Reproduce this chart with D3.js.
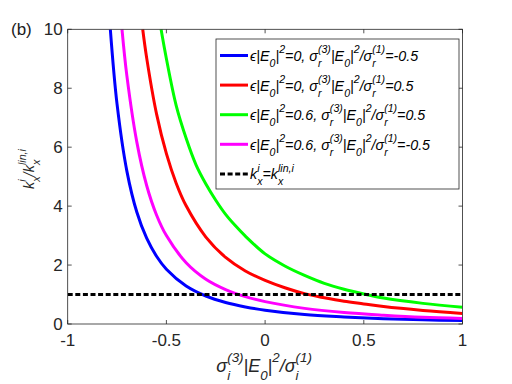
<!DOCTYPE html>
<html>
<head>
<meta charset="utf-8">
<script src="https://cdn.jsdelivr.net/npm/d3@7/dist/d3.min.js"></script>
<style>
  html, body { margin: 0; padding: 0; background: #fff; }
  svg { display: block; font-family: "Liberation Sans", Arial, Helvetica, sans-serif; }
</style>
</head>
<body>
<div id="chart"></div>
<script>
"use strict";

// values: [x, k/k_lin]
var blueData = [[-0.784,10],[-0.75,7.46],[-0.7,5.18],[-0.65,3.8],[-0.6,2.91],[-0.55,2.3],[-0.5,1.86],[-0.4,1.29],[-0.3,0.95],[-0.2,0.73],[-0.1,0.58],[0,0.47],[0.2,0.32],[0.4,0.24],[0.6,0.18],[0.8,0.14],[1,0.12]];
var redData = [[-0.62,10],[-0.6,9.03],[-0.55,7.13],[-0.5,5.78],[-0.45,4.77],[-0.4,4.01],[-0.3,2.95],[-0.2,2.26],[-0.1,1.8],[0,1.48],[0.1,1.23],[0.2,1.03],[0.3,0.89],[0.4,0.77],[0.5,0.68],[0.6,0.59],[0.8,0.46],[1,0.36]];
var greenData = [[-0.527,10],[-0.5,9.0],[-0.45,7.4],[-0.4,6.3],[-0.35,5.4],[-0.3,4.75],[-0.25,4.2],[-0.2,3.72],[-0.15,3.33],[-0.1,2.98],[0,2.38],[0.1,1.97],[0.2,1.65],[0.3,1.38],[0.4,1.18],[0.5,1.02],[0.6,0.88],[0.8,0.7],[1,0.57]];
var magentaData = [[-0.725,10],[-0.7,8.41],[-0.65,6.18],[-0.6,4.7],[-0.55,3.7],[-0.5,3.0],[-0.4,2.08],[-0.3,1.52],[-0.2,1.17],[-0.1,0.93],[0,0.76],[0.2,0.53],[0.4,0.39],[0.6,0.3],[0.8,0.23],[1,0.19]];
var refLevel = 1;

var xTicks = [-1, -0.5, 0, 0.5, 1];
var xTickLabels = ["-1", "-0.5", "0", "0.5", "1"];
var yTicks = [0, 2, 4, 6, 8, 10];
var yTickLabels = ["0", "2", "4", "6", "8", "10"];

// legend labels: strings are normal text, objects are stacked sub/superscripts
var legendLabels = [
	["\u03f5|E", {sub:"0"}, "|", {sup:"2"}, "=0, \u03c3", {sub:"r", sup:"(3)"}, "|E", {sub:"0"}, "|", {sup:"2"}, "/\u03c3", {sub:"r", sup:"(1)"}, "=-0.5"],
	["\u03f5|E", {sub:"0"}, "|", {sup:"2"}, "=0, \u03c3", {sub:"r", sup:"(3)"}, "|E", {sub:"0"}, "|", {sup:"2"}, "/\u03c3", {sub:"r", sup:"(1)"}, "=0.5"],
	["\u03f5|E", {sub:"0"}, "|", {sup:"2"}, "=0.6, \u03c3", {sub:"r", sup:"(3)"}, "|E", {sub:"0"}, "|", {sup:"2"}, "/\u03c3", {sub:"r", sup:"(1)"}, "=0.5"],
	["\u03f5|E", {sub:"0"}, "|", {sup:"2"}, "=0.6, \u03c3", {sub:"r", sup:"(3)"}, "|E", {sub:"0"}, "|", {sup:"2"}, "/\u03c3", {sub:"r", sup:"(1)"}, "=-0.5"],
	["k", {sub:"x", sup:"i"}, "=k", {sub:"x", sup:"lin,i"}]
];
var xLabel = ["\u03c3", {sub:"i", sup:"(3)"}, "|E", {sub:"0"}, "|", {sup:"2"}, "/\u03c3", {sub:"i", sup:"(1)"}];
var yLabel = ["k", {sub:"x", sup:"i"}, "/k", {sub:"x", sup:"lin,i"}];

var series = [
	{data: blueData, color: "#0000ff"},
	{data: redData, color: "#ff0000"},
	{data: greenData, color: "#00ff00"},
	{data: magentaData, color: "#ff00ff"}
];

var W = 512, H = 384;
var pLeft = 67.7, pRight = 462.5, pTop = 29.3, pBottom = 324;
var axisColor = "#262626";

var svg = d3.select("#chart").append("svg").attr("width", W).attr("height", H);
svg.append("rect").attr("width", W).attr("height", H).attr("fill", "#fff");

var x = d3.scaleLinear().domain([-1, 1]).range([pLeft, pRight]);
var y = d3.scaleLinear().domain([0, 10]).range([pBottom, pTop]);

// text with tex-like sub / superscripts
function rich(sel, parts, fs) {
	var t = sel.append("text").style("font-size", fs + "px").style("font-style", "italic");
	var small = fs * 0.74;
	var shift = 0, pending = 0;
	parts.forEach(function(p) {
		if (typeof p === "string") {
			t.append("tspan").attr("dx", pending).attr("dy", -shift)
				.style("font-size", fs + "px").text(p);
			shift = 0; pending = 0;
		} else {
			var subW = 0, supW = 0;
			if (p.sub) {
				var s = t.append("tspan").attr("dx", pending).attr("dy", fs * 0.42 - shift)
					.style("font-size", small + "px").text(p.sub);
				shift = fs * 0.42; pending = 0;
				subW = s.node().getComputedTextLength();
			}
			if (p.sup) {
				var u = t.append("tspan").attr("dx", (p.sub ? -subW : 0) + pending)
					.attr("dy", -fs * 0.55 - shift)
					.style("font-size", small + "px").text(p.sup);
				shift = -fs * 0.55; pending = 0;
				supW = u.node().getComputedTextLength();
			}
			if (p.sub && p.sup) pending = Math.max(0, subW - supW);
		}
	});
	return t;
}

// clip for curves
svg.append("clipPath").attr("id", "plotclip").append("rect")
	.attr("x", pLeft).attr("y", pTop).attr("width", pRight - pLeft).attr("height", pBottom - pTop);

var line = d3.line()
	.x(function(d) { return x(d[0]); })
	.y(function(d) { return y(d[1]); })
	.curve(d3.curveCatmullRom.alpha(0.5));

var plot = svg.append("g").attr("clip-path", "url(#plotclip)");
series.forEach(function(s) {
	plot.append("path").datum(s.data).attr("d", line)
		.attr("fill", "none").attr("stroke", s.color).attr("stroke-width", 3);
});
plot.append("line")
	.attr("x1", x(-1)).attr("x2", x(1)).attr("y1", y(refLevel)).attr("y2", y(refLevel))
	.attr("stroke", "#000").attr("stroke-width", 3).attr("stroke-dasharray", "5,2.6");

// axes box + ticks
svg.append("rect").attr("x", pLeft).attr("y", pTop).attr("width", pRight - pLeft).attr("height", pBottom - pTop)
	.attr("fill", "none").attr("stroke", axisColor).attr("stroke-width", 0.8);

var tickLen = 4;
var ax = svg.append("g").attr("stroke", axisColor).attr("stroke-width", 0.8);
xTicks.forEach(function(v) {
	ax.append("line").attr("x1", x(v)).attr("x2", x(v)).attr("y1", pBottom).attr("y2", pBottom - tickLen);
	ax.append("line").attr("x1", x(v)).attr("x2", x(v)).attr("y1", pTop).attr("y2", pTop + tickLen);
});
yTicks.forEach(function(v) {
	ax.append("line").attr("x1", pLeft).attr("x2", pLeft + tickLen).attr("y1", y(v)).attr("y2", y(v));
	ax.append("line").attr("x1", pRight).attr("x2", pRight - tickLen).attr("y1", y(v)).attr("y2", y(v));
});

var tickFs = 17;
svg.append("g").selectAll("text").data(xTicks).enter().append("text")
	.attr("x", function(d) { return x(d); }).attr("y", pBottom + 22)
	.attr("text-anchor", "middle").attr("fill", axisColor).style("font-size", tickFs + "px")
	.text(function(d, i) { return xTickLabels[i]; });
svg.append("g").selectAll("text").data(yTicks).enter().append("text")
	.attr("x", pLeft - 5).attr("y", function(d) { return y(d) + 6; })
	.attr("text-anchor", "end").attr("fill", axisColor).style("font-size", tickFs + "px")
	.text(function(d, i) { return yTickLabels[i]; });

svg.append("text").attr("x", 11).attr("y", 35).attr("fill", "#1a1a1a")
	.style("font-size", tickFs + "px").text("(b)");

// axis labels
rich(svg.append("g").attr("transform", "translate(" + ((pLeft + pRight) / 2 - 1) + ",372)"), xLabel, 18)
	.attr("text-anchor", "middle").attr("fill", axisColor);
rich(svg.append("g").attr("transform", "translate(34,169) rotate(-90)"), yLabel, 14.5)
	.attr("text-anchor", "middle").attr("fill", axisColor);

// legend
var lg = svg.append("g");
lg.append("rect").attr("x", 216).attr("y", 39).attr("width", 243).attr("height", 150)
	.attr("fill", "#fff").attr("stroke", axisColor).attr("stroke-width", 0.8);
var legendItems = series.map(function(s) { return {color: s.color, dash: null}; })
	.concat([{color: "#000", dash: "5,2.6"}]);
legendItems.forEach(function(it, i) {
	var ry = 55.5 + i * 29.6;
	lg.append("line").attr("x1", 220).attr("x2", 248).attr("y1", ry).attr("y2", ry)
		.attr("stroke", it.color).attr("stroke-width", 3).attr("stroke-dasharray", it.dash);
	rich(lg.append("g").attr("transform", "translate(250," + (ry + 5.5) + ")"), legendLabels[i], 14.3)
		.attr("fill", "#000");
});
</script>
</body>
</html>
